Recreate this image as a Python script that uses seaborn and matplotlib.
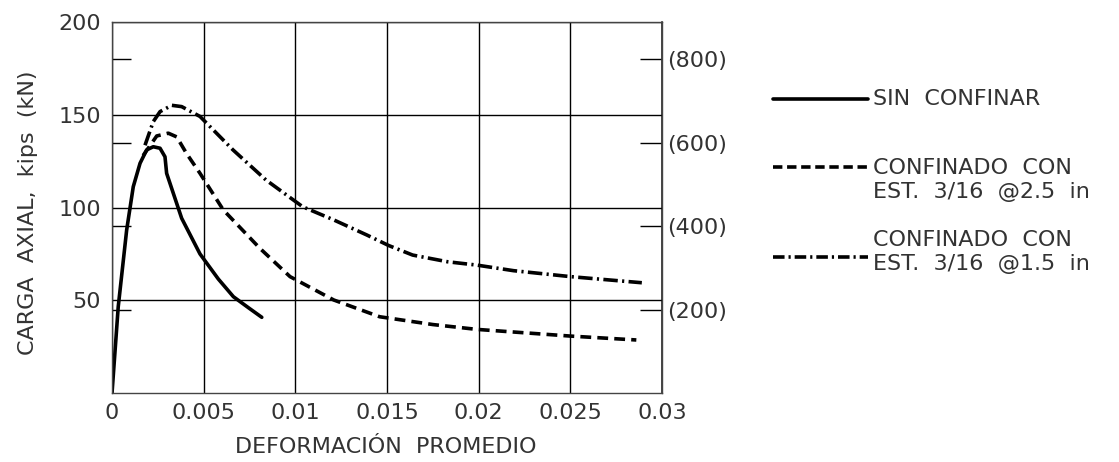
import matplotlib
matplotlib.use("Agg")
import matplotlib.pyplot as plt
import seaborn as sns

# strain (deformacion promedio) vs axial load (kips)
sin_x = [0, 0.00034, 0.0008, 0.00116, 0.00153, 0.00189, 0.00225, 0.00262, 0.00289, 0.00298,
         0.0038, 0.0048, 0.0058, 0.00662, 0.00745, 0.00817]
sin_y = [0, 46.6, 87.9, 111.2, 123.8, 131.0, 132.7, 131.9, 127.3, 118.4,
         94.2, 75.0, 61.5, 52.0, 46.0, 40.9]

c25_x = [0.0017, 0.00244, 0.00307, 0.00353, 0.00407, 0.0048, 0.00607, 0.00807, 0.00971,
         0.0121, 0.0146, 0.0175, 0.0199, 0.025, 0.0286]
c25_y = [128.0, 138.5, 140.0, 138.0, 129.0, 118.4, 98.7, 78.0, 62.8,
         50.2, 41.2, 37.0, 34.4, 30.8, 28.7]

c15_x = [0.0018, 0.00225, 0.00262, 0.00326, 0.0038, 0.0048, 0.0066, 0.0084, 0.0104,
         0.0121, 0.0139, 0.0151, 0.0164, 0.0183, 0.0199, 0.0219, 0.025, 0.0289]
c15_y = [133.5, 146.2, 151.6, 155.0, 154.3, 149.0, 131.0, 114.8, 100.4,
         93.3, 85.2, 79.5, 74.4, 70.8, 69.0, 66.0, 62.8, 59.5]

x_ticks = [0, 0.005, 0.01, 0.015, 0.02, 0.025, 0.03]
x_labels = ["0", "0.005", "0.01", "0.015", "0.02", "0.025", "0.03"]
y_ticks = [50, 100, 150, 200]
kn_ticks = [200, 400, 600, 800]

labels = ["SIN  CONFINAR",
          "CONFINADO  CON\nEST.  3/16  @2.5  in",
          "CONFINADO  CON\nEST.  3/16  @1.5  in"]

sns.set_theme(style="white")
plt.rcParams["font.family"] = ["DejaVu Sans"]
txt = "#333333"
fs = 16

fig = plt.figure(figsize=(11.19, 4.62), dpi=100)
ax = fig.add_axes([112 / 1119, 1 - 393.3 / 462, 550 / 1119, 371.6 / 462])

dashed = (0, (3, 1.7))
dashdot = (0, (4, 1.2, 0.6, 1.2))
lw = 2.6

sns.lineplot(x=sin_x, y=sin_y, ax=ax, color="black", lw=lw, sort=False, estimator=None)
sns.lineplot(x=c25_x, y=c25_y, ax=ax, color="black", lw=lw, sort=False, estimator=None,
             linestyle=dashed)
sns.lineplot(x=c15_x, y=c15_y, ax=ax, color="black", lw=lw, sort=False, estimator=None,
             linestyle=dashdot)

ax.set_xlim(0, 0.03)
ax.set_ylim(0, 200)
ax.set_xticks(x_ticks)
ax.set_xticklabels(x_labels)
ax.set_yticks(y_ticks)
ax.grid(True, color="black", lw=1)
ax.tick_params(axis="both", which="major", length=0, labelsize=fs, labelcolor=txt)
ax.tick_params(axis="x", pad=7)
ax.tick_params(axis="y", pad=8)
for s in ax.spines.values():
    s.set_color("#444444")
    s.set_linewidth(1)

# kN equivalents: inward ticks on both sides, labels on the right
kn_in_kips = [v / 4.448 for v in kn_ticks]
ax.set_yticks(kn_in_kips, minor=True)
ax.tick_params(axis="y", which="minor", direction="in", length=14, width=1,
               color="black", left=True)
sec = ax.secondary_yaxis("right", functions=(lambda k: k * 4.448, lambda n: n / 4.448))
sec.set_yticks(kn_ticks)
sec.set_yticklabels(["(%d)" % v for v in kn_ticks])
sec.tick_params(direction="in", length=16, width=1, color="black", labelsize=fs,
                labelcolor=txt, pad=4)
sec.spines["right"].set_color("#444444")

fig.text(28 / 1119, 1 - 213 / 462, "CARGA  AXIAL,  kips  (kN)", rotation=90,
         ha="center", va="center", fontsize=fs, color=txt)
fig.text(386 / 1119, 1 - 447 / 462, "DEFORMACIÓN  PROMEDIO", ha="center",
         va="center", fontsize=fs, color=txt)

# legend drawn on an overlay in pixel coordinates
lax = fig.add_axes([0, 0, 1, 1])
lax.set_xlim(0, 1119)
lax.set_ylim(462, 0)
lax.axis("off")
leg_y = [99, 167, 257]
leg_text_y = [99, 180, 252]
styles = ["-", (0, (2.6, 1.3)), (0, (3.2, 1.1, 0.6, 1.1))]
for ly, ty, st, lab in zip(leg_y, leg_text_y, styles, labels):
    lax.plot([773, 868], [ly, ly], color="black", lw=lw, linestyle=st)
    lax.text(873, ty, lab, ha="left", va="center", fontsize=fs, color=txt,
             linespacing=1.3)

fig.savefig("out.png", dpi=100)
